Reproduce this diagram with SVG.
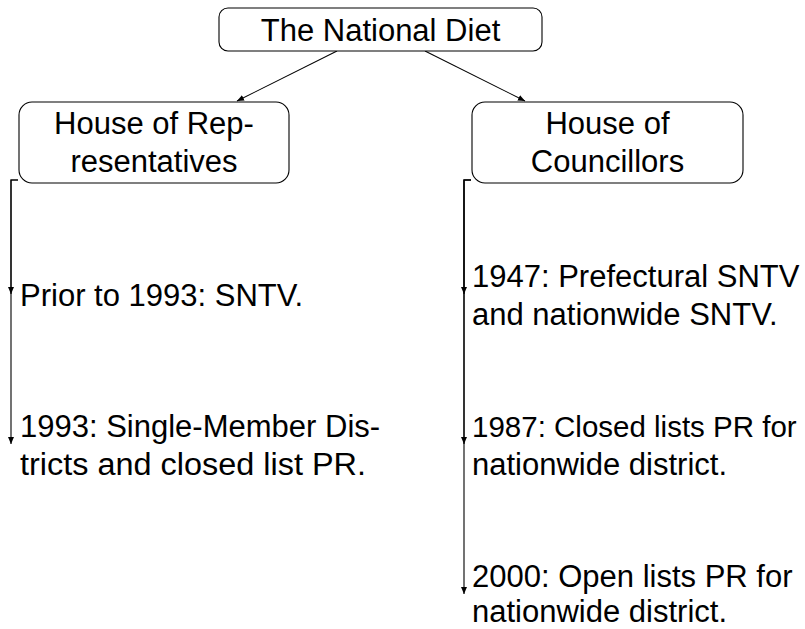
<svg xmlns="http://www.w3.org/2000/svg" width="805" height="629" viewBox="0 0 805 629">
<style>
.box{fill:#fff;stroke:#000;stroke-width:1.1}
.t{font-family:"Liberation Sans",Arial,sans-serif;font-size:31px;fill:#000}
.c{text-anchor:middle}
.e{fill:none;stroke:#000;stroke-width:1.1}
</style>
<defs>
<marker id="ah" markerWidth="8" markerHeight="8" refX="7" refY="4" orient="auto" markerUnits="userSpaceOnUse">
<path d="M0,1 L7,4 L0,7 Z" fill="#000"/>
</marker>
</defs>
<g id="connectors">
<line class="e" x1="337" y1="51" x2="237" y2="101" marker-end="url(#ah)"/>
<line class="e" x1="425" y1="51" x2="525" y2="101" marker-end="url(#ah)"/>
<path class="e" d="M18,180 H11 V294" marker-end="url(#ah)"/>
<path class="e" d="M18,180 H11 V444" marker-end="url(#ah)"/>
<path class="e" d="M471,180 H464 V294" marker-end="url(#ah)"/>
<path class="e" d="M471,180 H464 V444" marker-end="url(#ah)"/>
<path class="e" d="M471,180 H464 V594" marker-end="url(#ah)"/>
</g>
<g id="diet">
<rect class="box" x="219" y="8" width="323" height="43" rx="9"/>
<text class="t c" x="380.5" y="41">The National Diet</text>
</g>
<g id="representatives">
<rect class="box" x="19" y="102" width="270" height="81" rx="13"/>
<text class="t c" x="154" y="134">House of Rep-</text>
<text class="t c" x="154" y="172">resentatives</text>
</g>
<g id="councillors">
<rect class="box" x="472" y="102" width="271" height="81" rx="13"/>
<text class="t c" x="607.5" y="134">House of</text>
<text class="t c" x="607.5" y="172">Councillors</text>
</g>
<g id="prior1993">
<text class="t" x="20" y="306">Prior to 1993: SNTV.</text>
</g>
<g id="rep1993">
<text class="t" x="20" y="437">1993: Single-Member Dis-</text>
<text class="t" x="20" y="475" textLength="346" lengthAdjust="spacingAndGlyphs">tricts and closed list PR.</text>
</g>
<g id="c1947">
<text class="t" x="472" y="287">1947: Prefectural SNTV</text>
<text class="t" x="472" y="325">and nationwide SNTV.</text>
</g>
<g id="c1987">
<text class="t" x="472" y="437" style="font-size:29.5px">1987: Closed lists PR for</text>
<text class="t" x="472" y="475">nationwide district.</text>
</g>
<g id="c2000">
<text class="t" x="472" y="587">2000: Open lists PR for</text>
<text class="t" x="472" y="622">nationwide district.</text>
</g>
</svg>
